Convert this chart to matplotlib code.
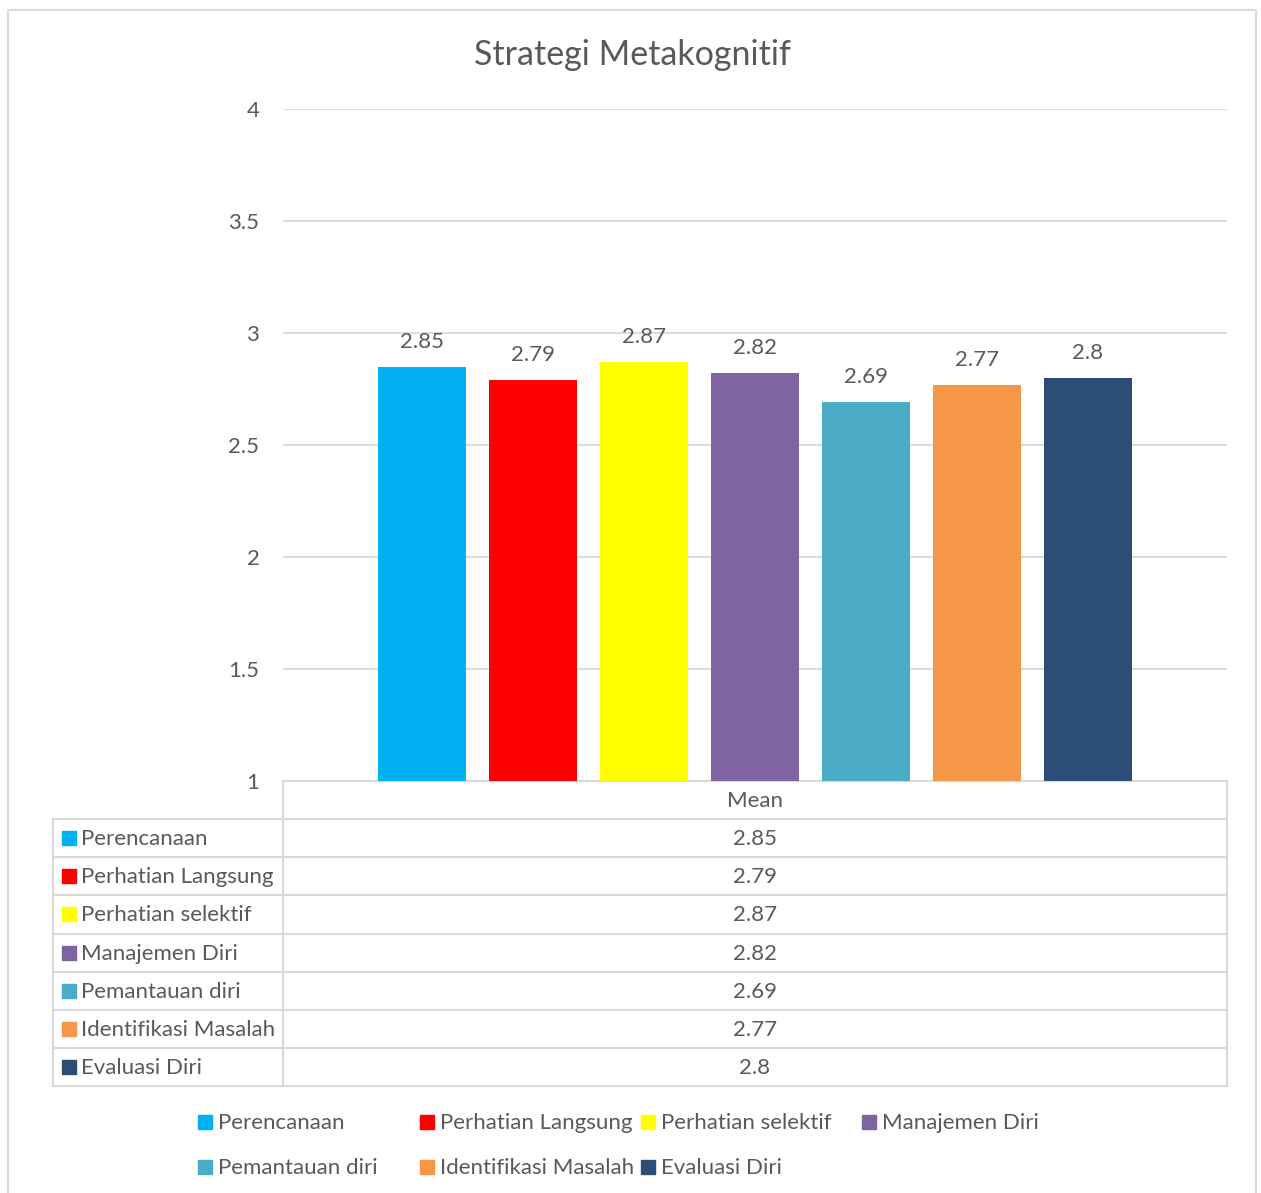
import matplotlib
matplotlib.use("Agg")
import matplotlib.pyplot as plt
from matplotlib.patches import Rectangle

# data
categories = ["Perencanaan", "Perhatian Langsung", "Perhatian selektif", "Manajemen Diri",
              "Pemantauan diri", "Identifikasi Masalah", "Evaluasi Diri"]
means = [2.85, 2.79, 2.87, 2.82, 2.69, 2.77, 2.8]
colors = ["#00B0F0", "#FF0000", "#FFFF00", "#8064A2", "#4BACC6", "#F79646", "#2C4D75"]
yticks = [1, 1.5, 2, 2.5, 3, 3.5, 4]
series_name = "Mean"

plt.rcParams["font.family"] = ["Lato", "DejaVu Sans"]
txt = "#595959"
grid_c = "#D9D9D9"
fs = 16

W, H = 1261, 1193
fig = plt.figure(figsize=(W / 100, H / 100), dpi=100)

# overlay in pixel coordinates for border, table and legend
ov = fig.add_axes([0, 0, 1, 1])
ov.set_xlim(0, W)
ov.set_ylim(H, 0)
ov.axis("off")

# outer border
ov.plot([8, 8, 1256, 1256], [H, 10, 10, H], color=grid_c, lw=1.5)

# plot area
left, right, top, bottom = 283, 1227, 109, 781
ax = fig.add_axes([left / W, 1 - bottom / H, (right - left) / W, (bottom - top) / H])
ax.set_facecolor("none")
n = len(means)
xs = [i - (n - 1) / 2 for i in range(n)]
half = (right - left) / 2 / 111
bars = ax.bar(xs, [m - 1 for m in means], bottom=1, width=88 / 111, color=colors, zorder=3)
for x, m in zip(xs, means):
    ax.annotate(f"{m:g}", (x, m), xytext=(0, 18), textcoords="offset points",
                ha="center", va="center", fontsize=fs, color=txt)
ax.set_xlim(-half, half)
ax.set_ylim(1, 4)
ax.set_yticks(yticks)
ax.set_yticklabels([f"{t:g}" for t in yticks], fontsize=fs, color=txt)
ax.tick_params(axis="y", length=0, pad=17)
ax.set_xticks([])
ax.grid(axis="y", color=grid_c, lw=1.3, zorder=0)
for s in ax.spines.values():
    s.set_visible(False)

fig.text(632 / W, 1 - 55 / H, "Strategi Metakognitif", ha="center", va="center",
         fontsize=24.5, color=txt)

# data table
row_h = (1086 - 781) / 8
tl = 53
lc = dict(color=grid_c, lw=1.5)
ov.plot([left, right], [bottom, bottom], **lc)
for r in range(1, 9):
    y = bottom + r * row_h
    ov.plot([tl, right], [y, y], **lc)
ov.plot([left, left], [bottom, 1086], **lc)
ov.plot([right, right], [bottom, 1086], **lc)
ov.plot([tl, tl], [bottom + row_h, 1086], **lc)
ov.text((left + right) / 2, bottom + row_h / 2 + 1, series_name, ha="center", va="center",
        fontsize=fs, color=txt)
for i, (c, m, col) in enumerate(zip(categories, means, colors)):
    yc = bottom + row_h * (i + 1.5)
    ov.add_patch(Rectangle((62, yc - 7), 14, 14, color=col))
    ov.text(81, yc + 1, c, ha="left", va="center", fontsize=fs, color=txt)
    ov.text((left + right) / 2, yc + 1, f"{m:g}", ha="center", va="center", fontsize=fs, color=txt)

# legend
leg_x = [198, 420, 641, 862]
leg_y = [1122, 1167]
for i, (c, col) in enumerate(zip(categories, colors)):
    lx = leg_x[i % 4]
    ly = leg_y[i // 4]
    ov.add_patch(Rectangle((lx, ly - 7), 14, 14, color=col))
    ov.text(lx + 20, ly + 1, c, ha="left", va="center", fontsize=fs, color=txt)

fig.savefig("out.png", dpi=100)
